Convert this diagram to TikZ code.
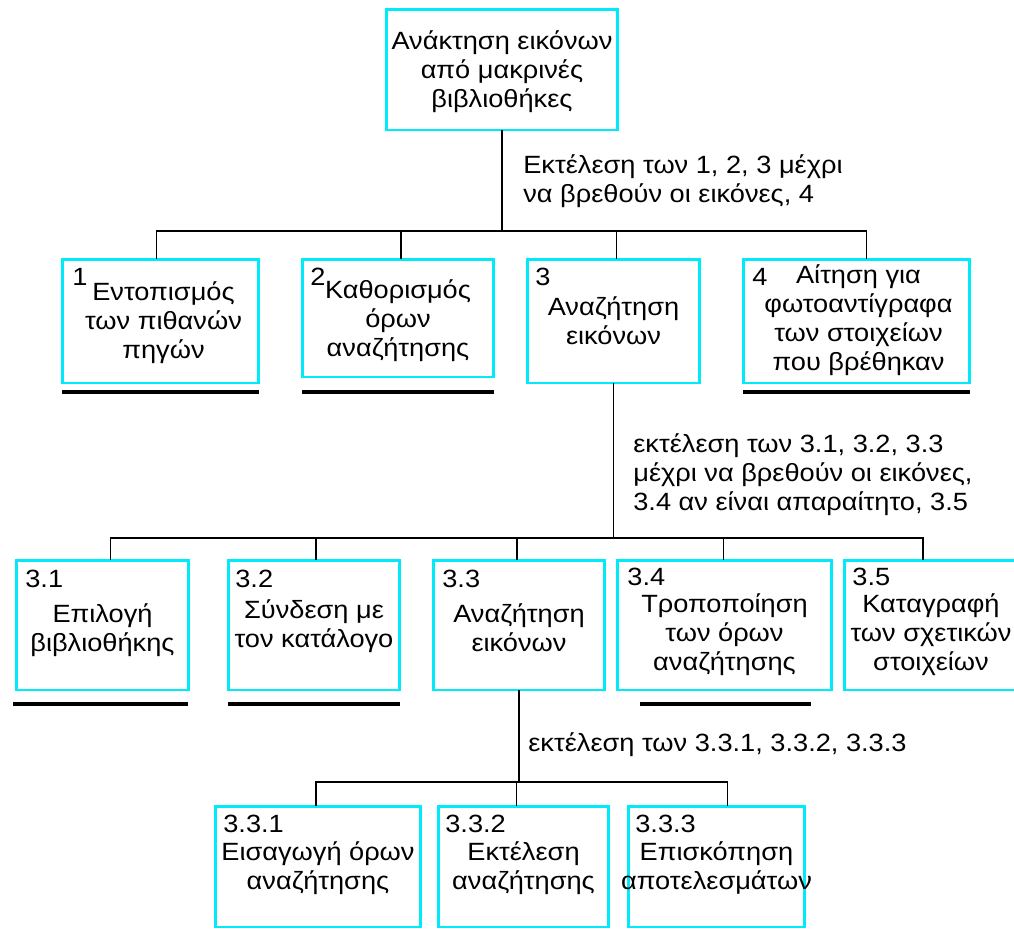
\documentclass[tikz,border=0pt]{standalone}
\usepackage{fontspec}
\setmainfont{Liberation Sans}[FakeStretch=1.09]
\usepackage{tikz}
\usetikzlibrary{positioning, calc}
\definecolor{boxcyan}{RGB}{0,235,250}

\begin{document}
\begin{tikzpicture}[
		x=0.02cm, y=0.02cm,
		every node/.style={font=\fontsize{14.2pt}{16.5pt}\selectfont},
		taskbox/.style={rectangle, draw=boxcyan, line width=1.7pt, outer sep=0pt, inner sep=0pt},
		tasktext/.style={align=center, inner sep=0pt},
		tasknum/.style={anchor=base west, inner sep=0pt},
		remark/.style={align=left, anchor=north west, inner sep=0pt},
		link/.style={line width=0.7pt},
		leafline/.style={line width=2pt},
	]
		\useasboundingbox (0,0) rectangle (1014,-934);

		%Boxes
		\node (goal) [taskbox, minimum width=4.64cm, minimum height=2.42cm] at (502,-69.5) {};

		\node (locate) [taskbox, minimum width=3.94cm, minimum height=2.48cm] at (160.5,-321) {};
		\node (terms) [taskbox, minimum width=3.84cm, minimum height=2.36cm] at (398,-318) {};
		\node (search) [taskbox, minimum width=3.46cm, minimum height=2.48cm] at (613.5,-321) {};
		\node (request) [taskbox, minimum width=4.54cm, minimum height=2.48cm] at (856.5,-321) {};

		\node (library) [taskbox, minimum width=3.46cm, minimum height=2.6cm] at (102.5,-625) {};
		\node (connect) [taskbox, minimum width=3.44cm, minimum height=2.6cm] at (314,-625) {};
		\node (query) [taskbox, minimum width=3.44cm, minimum height=2.6cm] at (519,-625) {};
		\node (refine) [taskbox, minimum width=4.30cm, minimum height=2.6cm] at (724.5,-625) {};
		\node (record) [taskbox, minimum width=3.48cm, minimum height=2.6cm] at (931,-625) {};

		\node (enter) [taskbox, minimum width=4.12cm, minimum height=2.42cm] at (318,-866.5) {};
		\node (run) [taskbox, minimum width=3.42cm, minimum height=2.42cm] at (523.5,-866.5) {};
		\node (review) [taskbox, minimum width=3.54cm, minimum height=2.42cm] at (716.5,-866.5) {};

		%Texts
		\node (goaltext) [tasktext, below=0.4cm of goal.north] {\strut Ανάκτηση εικόνων\\από μακρινές\\βιβλιοθήκες};

		\node (locatetext) [tasktext, below=0.42cm of locate.north, xshift=0.06cm] {\strut Εντοπισμός\\των πιθανών\\πηγών};
		\node (termstext) [tasktext, below=0.38cm of terms.north] {\strut Καθορισμός\\όρων\\αναζήτησης};
		\node (searchtext) [tasktext, below=0.72cm of search.north] {\strut Αναζήτηση\\εικόνων};
		\node (requesttext) [tasktext, below=0.08cm of request.north, xshift=0.04cm] {\strut Αίτηση για\\φωτοαντίγραφα\\των στοιχείων\\που βρέθηκαν};

		\node (librarytext) [tasktext, below=0.84cm of library.north] {\strut Επιλογή\\βιβλιοθήκης};
		\node (connecttext) [tasktext, below=0.76cm of connect.north] {\strut Σύνδεση με\\τον κατάλογο};
		\node (querytext) [tasktext, below=0.84cm of query.north] {\strut Αναζήτηση\\εικόνων};
		\node (refinetext) [tasktext, below=0.64cm of refine.north] {\strut Τροποποίηση\\των όρων\\αναζήτησης};
		\node (recordtext) [tasktext, below=0.64cm of record.north] {\strut Καταγραφή\\των σχετικών\\στοιχείων};

		\node (entertext) [tasktext, below=0.68cm of enter.north] {\strut Εισαγωγή όρων\\αναζήτησης};
		\node (runtext) [tasktext, below=0.68cm of run.north] {\strut Εκτέλεση\\αναζήτησης};
		\node (reviewtext) [tasktext, below=0.68cm of review.north] {\strut Επισκόπηση\\αποτελεσμάτων};

		%Numbers
		\node (locatenum) [tasknum] at ($(locate.north west)+(10,-26)$) {1};
		\node (termsnum) [tasknum] at ($(terms.north west)+(8,-26)$) {2};
		\node (searchnum) [tasknum] at ($(search.north west)+(8,-26)$) {3};
		\node (requestnum) [tasknum] at ($(request.north west)+(9,-26)$) {4};

		\node (librarynum) [tasknum] at ($(library.north west)+(9,-27)$) {3.1};
		\node (connectnum) [tasknum] at ($(connect.north west)+(7,-27)$) {3.2};
		\node (querynum) [tasknum] at ($(query.north west)+(9,-27)$) {3.3};
		\node (refinenum) [tasknum] at ($(refine.north west)+(10,-25)$) {3.4};
		\node (recordnum) [tasknum] at ($(record.north west)+(8,-25)$) {3.5};

		\node (enternum) [tasknum] at ($(enter.north west)+(8,-26)$) {3.3.1};
		\node (runnum) [tasknum] at ($(run.north west)+(7,-26)$) {3.3.2};
		\node (reviewnum) [tasknum] at ($(review.north west)+(7,-26)$) {3.3.3};

		%Remarks
		\node (note1) [remark] at ($(goal.south)+(21,-23)$) {\strut Εκτέλεση των 1, 2, 3 μέχρι\\να βρεθούν οι εικόνες, 4};
		\node (note2) [remark] at ($(search.south)+(19.5,-49)$) {\strut εκτέλεση των 3.1, 3.2, 3.3\\μέχρι να βρεθούν οι εικόνες,\\3.4 αν είναι απαραίτητο, 3.5};
		\node (note3) [remark] at ($(query.south)+(9,-41)$) {\strut εκτέλεση των 3.3.1, 3.3.2, 3.3.3};

		%Lines
		\coordinate (fork1) at ($(goal.south)+(0,-101)$);
		\draw[link] (goal.south) -- (fork1);
		\foreach \n/\dx in {locate/-4, terms/3, search/3, request/10}
			\draw[link] ($(\n.north)+(\dx,0)$) |- (fork1);

		\coordinate (fork2) at ($(search.south)+(0,-155)$);
		\draw[link] (search.south) -- (fork2);
		\foreach \n/\dx in {library/8, connect/2, query/-2, refine/-1, record/-8}
			\draw[link] ($(\n.north)+(\dx,0)$) |- (fork2);

		\coordinate (fork3) at ($(query.south)+(0,-92)$);
		\draw[link] (query.south) -- (fork3);
		\foreach \n/\dx in {enter/-2, run/-7, review/11}
			\draw[link] ($(\n.north)+(\dx,0)$) |- (fork3);

		%Underlines
		\draw[leafline] ($(locate.south west)+(0,-9)$) -- ($(locate.south east)+(0,-9)$);
		\draw[leafline] ($(terms.south west)+(0,-15)$) -- ($(terms.south east)+(0,-15)$);
		\draw[leafline] ($(request.south west)+(0,-9)$) -- ($(request.south east)+(0,-9)$);
		\draw[leafline] ($(library.south west)+(-3,-14)$) -- ($(library.south east)+(-1,-14)$);
		\draw[leafline] ($(connect.south west)+(0,-14)$) -- ($(connect.south east)+(0,-14)$);
		\draw[leafline] ($(refine.south west)+(23,-14)$) -- ($(refine.south east)+(-21,-14)$);
	\end{tikzpicture}
\end{document}
